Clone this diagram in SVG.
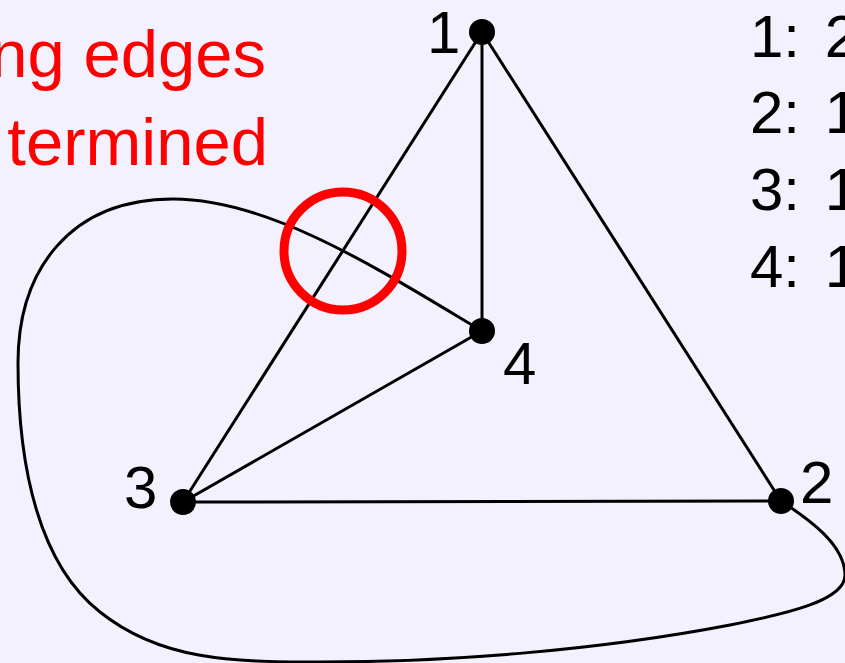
<svg xmlns="http://www.w3.org/2000/svg" width="845" height="663" viewBox="0 0 845 663">
<style>
.bg{fill:#f2f1fd}
.edge{fill:none;stroke:#000;stroke-width:3}
.dot{fill:#000}
.lbl{font-family:"Liberation Sans","DejaVu Sans",sans-serif;font-size:60px;fill:#000}
.list{font-family:"Liberation Sans","DejaVu Sans",sans-serif;font-size:60px;fill:#000;word-spacing:8px}
.red{font-family:"Liberation Sans","DejaVu Sans",sans-serif;font-size:67px;fill:#ff0000}
.mark{fill:none;stroke:#ff0000;stroke-width:9}
</style>
<rect class="bg" x="0" y="0" width="845" height="663"/>
<g id="connectors">
<line class="edge" x1="482" y1="32" x2="482" y2="331"/>
<line class="edge" x1="482" y1="32" x2="183" y2="502"/>
<line class="edge" x1="482" y1="32" x2="781" y2="501"/>
<line class="edge" x1="183" y1="502" x2="482" y2="331"/>
<line class="edge" x1="183" y1="502" x2="781" y2="501"/>
<path class="edge" d="M482,331 C380,270 270,199 173,199 C70,199 18,270 18,363 C18,470 40,565 100,612 C160,660 230,662 320,662 C450,662 600,650 730,625 C790,613 845,600 845,575 C845,545 810,520 781,501"/>
</g>
<g id="crossing-mark">
<circle class="mark" cx="343" cy="251" r="59"/>
</g>
<g id="node1"><circle class="dot" cx="482" cy="32" r="13"/><text class="lbl" x="427" y="53">1</text></g>
<g id="node2"><circle class="dot" cx="781" cy="501" r="13"/><text class="lbl" x="800" y="503">2</text></g>
<g id="node3"><circle class="dot" cx="183" cy="502" r="13"/><text class="lbl" x="124" y="508">3</text></g>
<g id="node4"><circle class="dot" cx="482" cy="331" r="13"/><text class="lbl" x="503" y="384">4</text></g>
<g id="caption">
<text class="red" x="266" y="77" text-anchor="end">ng edges</text>
<text class="red" x="268" y="165" text-anchor="end">termined</text>
</g>
<g id="adjacency">
<text class="list" x="750" y="57">1: 2</text>
<text class="list" x="750" y="133">2: 1</text>
<text class="list" x="750" y="210">3: 1</text>
<text class="list" x="750" y="287">4: 1</text>
</g>
</svg>
